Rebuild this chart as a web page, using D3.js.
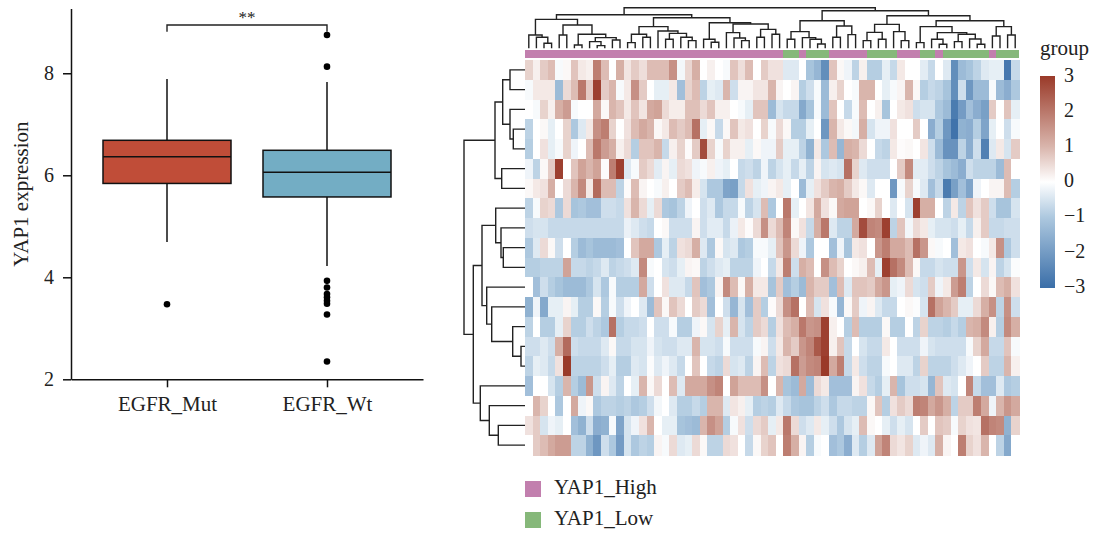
<!DOCTYPE html>
<html>
<head>
<meta charset="utf-8">
<script src="https://cdn.jsdelivr.net/npm/d3@7/dist/d3.min.js"></script>
<style>
html,body{margin:0;padding:0;background:#fff;}
svg{display:block;}
text{font-family:"Liberation Serif",serif;fill:#222;}
</style>
</head>
<body>
<svg id="chart" width="1100" height="535"></svg>
<script>
// ---- Box plot data ----
const boxGroups = ["EGFR_Mut", "EGFR_Wt"];
const boxQ1 = [5.84, 5.575];
const boxMedian = [6.365, 6.06];
const boxQ3 = [6.686, 6.49];
const boxWhiskerLow = [4.69, 4.22];
const boxWhiskerHigh = [7.89, 7.83];
const boxOutliers = [[3.47], [8.75, 8.13, 3.93, 3.80, 3.67, 3.61, 3.54, 3.48, 3.27, 2.35]];
const boxColors = ["#c04d38", "#73adc4"];
const yTicks = [2, 4, 6, 8];

// ---- Heatmap data: rows top to bottom, 65 samples left to right ----
const heatValues = [
[0.6,0.2,0.7,0.9,-0.1,0.1,0.8,0.3,0.2,1.9, 0.9,0,1.1,0.35,0.7,0.45,0.9,0.9,0.9,1.6, -0.15,0.55,1.1,0,0.2,0,-0.1,0.8,0.45,0.9, 0,0.7,0.4,0.4,-0.4,-0.4,0,-1.1,-1.4,-2.3, 0.8,0.1,-0.2,-0.8,0.2,-0.9,-0.9,-0.3,-0.7,0.3, 0,0,-0.35,-0.7,0,-0.4,-2.3,-1.3,-1.1,-0.8, -0.4,-0.3,-0.3,-2.8,-0.7],
[-0.1,0.3,0.3,0.3,-1.3,0.5,0.9,2.0,0.7,2.9, 0.7,1.0,-0.1,0.3,1.6,0.7,0,-0.3,-0.3,0.3, -1.2,0.6,0.9,-0.8,-0.3,-0.4,1.0,-0.6,0.15,0.15, 0.35,0.35,1.0,0.15,0,0.15,-0.9,-0.6,-0.1,-1.3, 0.2,0.6,0,-0.1,1.0,1.0,0,-0.3,-0.1,0.15, 1.0,0.1,-0.9,-0.7,-0.8,-1.1,-2.3,-0.6,-2.1,-1.3, -1.3,-0.1,-1.3,-1.6,-1.0],
[0,-0.1,0.6,0.2,1.1,1.4,-0.1,0,0,1.2, 0.1,1.0,0.8,0.3,0.8,0.35,1.2,1.3,0.5,0.25, 0.25,0.85,0.85,0.5,0.8,0.2,0.2,0,-0.1,-0.3, 0.8,0.8,-1.3,-0.5,-0.7,-0.7,-1.7,-1.1,-0.1,-1.3, 0.8,0,-0.7,-0.1,0.9,0,0.2,-1.1,0,0.3, 0.4,-0.6,-0.5,-0.5,-1.0,-1.3,-2.7,-2.0,-1.2,-1.6, -1.9,0.7,0,0.8,-0.3],
[-0.8,0,0.1,-0.3,0,0.6,-1.0,-0.4,0.3,1.6, 1.9,0.6,0,0.4,0.9,1.2,1.0,0.1,0.3,0.9, 0.7,0.9,2.1,-0.3,0.1,-0.7,0.1,0.8,0.3,0.4, 0,0.6,-0.1,0.5,0.1,-0.9,-0.9,-0.3,0,-2.1, 1.0,0.3,0.1,-0.15,1.1,-0.5,-0.2,-0.2,0.4,0, 0,0.7,0,-1.6,-0.9,-2.1,-2.9,-1.5,-1.6,-0.9, -1.8,-0.3,0,-0.6,-0.1],
[-0.9,0,0.4,-0.3,-0.1,0.6,-0.2,0,0.9,2.0, 1.4,1.1,0.2,0.5,-0.9,0.8,0.8,1.0,-0.7,0.2, 0.6,0.05,0.7,2.7,0.6,-0.1,0.6,0.2,0.2,-0.3, 0.1,-0.2,-0.2,0.7,-0.3,-0.3,-0.8,-1.5,0.3,-1.0, 0.9,-1.4,1.1,1.0,0.5,0,-0.7,-0.8,0.3,0.05, 0.1,0,0.35,-0.6,-1.3,-2.2,-2.2,-0.8,-1.6,-0.6, -2.6,-0.4,0.3,-0.5,0.7],
[-0.2,-0.8,0.1,0.7,2.9,0,0.8,1.3,1.0,1.3, 0.05,1.9,2.9,-0.4,-0.1,0.7,0.5,-0.35,0.15,-0.3, 0.5,0.4,-0.2,-0.1,0.2,-0.2,-0.3,0,-0.7,-0.6, -0.8,-0.2,-0.8,-0.5,-0.3,-0.7,-0.3,-0.8,0.15,-0.5, -0.4,-0.5,2.1,0.6,-0.4,-0.6,-0.6,-0.6,0,0.7, 1.7,-0.35,-0.35,-0.6,-0.8,-1.1,-1.3,-1.6,-0.6,-0.8, -0.8,-0.8,-1.3,0.9,0],
[0.1,0.3,0.4,1.1,0,0.5,1.0,1.7,0.3,2.2, 0.9,0.9,-0.8,0.05,0.9,0.15,0,-0.1,0.2,0, 0.7,0.9,0.25,-0.5,-1.0,-1.0,-1.8,-1.9,-0.7,0.4, -0.3,-0.2,0.15,0.3,-0.3,0,-1.3,-0.3,0.4,0.7, 1.0,1.1,0.7,0.3,0.1,-0.4,0,0,-2.1,-0.1, 0.6,-0.1,-0.4,-1.2,-0.7,-2.7,-1.9,-1.2,-1.8,-0.2, 0,0.15,0.15,0.9,-0.9],
[-0.8,-0.1,0.6,0.5,-1.0,0.5,-1.1,-1.0,-1.2,-1.2, -0.6,-0.6,-0.7,0.4,1.0,0.5,-0.3,0.5,-1.0,-1.1, -0.8,-0.2,0,-0.6,-0.4,-1.0,-0.7,-0.7,-0.1,-0.8, -0.5,0.9,-1.0,0,2.0,-0.3,0,0.35,1.2,0.4, 0.1,1.2,1.3,1.3,0,0.1,0.6,0,-0.4,0, -0.5,2.9,1.1,1.1,0,-0.8,0.3,-0.8,0.8,0.4, 0.7,-0.6,-1.1,-1.1,-0.5],
[-0.6,-0.5,-0.5,-0.7,-0.7,-0.7,-0.7,-0.7,-0.7,-0.7, -0.7,-0.7,-0.7,-0.25,-0.4,-0.6,-0.7,0,0.1,-0.6, -0.6,-0.6,0.15,-0.6,-0.35,-0.35,-0.7,-0.25,0.3,0.05, 0.5,1.6,0.5,0.9,1.8,0.1,0.4,-0.7,1.1,2.0, -0.4,-0.8,-0.8,1.2,2.7,1.8,1.7,2.9,-0.8,0.8, -0.15,0.5,0.3,-0.3,-0.5,-0.5,-0.6,-0.3,-0.7,0.2, 0.7,-0.7,-0.7,-0.6,-0.6],
[-1.0,-0.4,0.5,0.1,-0.6,0,-0.9,-1.3,-1.1,-1.3, -1.3,-1.3,-1.2,0,0.8,1.2,1.2,-1.0,-0.3,-0.8, 0.4,0.5,1.1,-0.4,-1.0,0.1,-0.5,-0.4,-1.0,-0.9, -0.1,-0.1,-0.3,0.8,1.5,0.5,-0.2,-1.0,0,0, -1.2,-0.2,-1.1,0.3,0.4,0,1.5,1.9,1.2,1.2, 0.9,2.1,1.5,0.1,-0.1,0,-1.2,0.3,0.4,0, -0.1,0.3,1.6,-1.0,-0.6],
[-0.9,-0.9,-0.8,-0.8,-0.8,1.3,-0.7,-0.7,-0.8,-0.7, -0.4,-0.8,-0.7,-0.6,-0.4,1.7,-0.1,0,-0.5,-0.6, -0.3,0.15,0.1,-0.8,-0.6,-0.4,-0.3,-0.8,-0.8,-0.8, -0.2,0,-0.7,0.3,1.9,-0.6,1.1,0.9,0,1.6, 0.9,0.6,0,0.1,0.2,0.9,-0.3,2.9,2.1,1.7, 0.9,0.1,-0.7,-0.7,-0.5,-0.6,-0.6,1.5,-0.6,0.3, -0.5,0.15,-0.8,-0.5,-0.05],
[0,-1.2,-0.6,-0.9,-1.1,-1.3,-1.3,-1.3,-1.0,-0.5, -1.0,-0.1,-0.9,-0.9,-0.9,1.2,-0.6,0,0.4,-0.4, -0.4,-0.7,0.8,-1.2,-1.0,0.15,1.7,0.9,0.1,1.1, 0.3,0.3,-1.1,0.7,-1.2,-0.9,-1.3,1.0,0.7,0.7, -1.2,0.9,-0.4,0.8,0.8,0.7,1.2,1.5,-0.3,-0.2, 0.5,-0.5,-0.6,0.7,-0.2,0.3,1.4,1.9,-0.8,0, 0.5,0.1,0.9,1.1,0.4],
[-1.5,-0.2,-1.7,-0.3,-0.3,0.15,-0.3,-0.9,-0.9,0.1, -0.9,-0.1,-0.6,-0.2,0,-0.4,-1.3,0.8,0.1,0.8, 0.5,0,0.7,0.5,-1.2,0,-0.6,-1.4,-0.5,-1.2, 0.7,-0.9,0.05,0.5,1.6,2.1,0,0.9,-0.5,0.4, -0.1,-1.4,0.1,0.7,-0.2,0.15,-0.4,-0.7,-0.7,0, 0.1,-0.05,-0.5,2.1,1.3,1.0,0.7,-0.3,-0.3,0.5, 1.1,1.6,-0.8,1.6,-0.6],
[-0.8,0,-0.9,-0.9,-0.3,0.6,-0.9,-0.9,-0.6,-0.8, -1.0,2.1,-0.9,-0.7,-0.7,-0.6,0,-0.6,-0.6,-0.1, -0.9,-0.9,-0.2,0.1,-0.5,0.6,-0.3,1.0,-0.5,-0.8, 0.7,0.5,-0.9,0.4,0.9,1.1,2.0,1.5,1.6,2.9, 0.2,0,-0.9,0.9,-0.9,-0.9,-0.9,0.1,-0.9,-0.9, 0,-0.8,0.6,-0.8,-0.8,-0.9,-0.7,-0.9,1.0,1.1, 1.7,0.2,-0.9,1.7,1.1],
[-0.6,-0.6,-0.4,-0.6,1.1,2.2,-0.6,-0.7,-0.7,-0.7, -0.4,0.1,-0.7,-0.7,-0.5,-0.5,-0.2,-0.5,-0.6,-0.6, -0.4,-0.4,1.0,-0.5,-0.5,-0.6,-0.1,-0.6,-0.6,-0.6, -0.1,0.15,-0.6,0.3,1.0,0.7,1.5,1.8,2.5,2.9, 0.2,0.8,-0.7,0,-0.5,-0.7,-0.7,0.3,0,-0.6, -0.6,-0.6,-0.2,-0.5,-0.6,-0.6,-0.6,-0.6,-0.1,0.6, 1.2,-0.7,-0.7,0.8,-0.1],
[-0.8,-0.3,-0.4,-0.7,0.4,3.0,-0.8,-0.8,-0.8,-0.8, -0.6,-0.3,-0.9,-0.9,-0.4,-0.5,-0.05,-0.4,-0.2,-0.4, -0.7,0,0.8,0,-0.7,-0.8,0.5,-0.5,-0.4,-0.8, 0.15,0.9,-0.8,0.4,0.5,2.1,1.4,1.7,1.8,3.0, 1.2,1.9,-0.7,0.3,-0.6,-0.8,-0.8,-0.1,0,-0.4, -0.4,-0.8,0.6,-0.8,-0.8,-0.8,-0.6,-0.4,-0.2,0, 0.7,-0.8,-0.8,1.0,0.2],
[-1.2,0,0,-0.5,-0.9,1.0,-0.9,-1.3,1.5,-0.6, 0.15,-0.4,-0.8,0,-0.3,1.0,0.1,0.5,0,0.9, -0.4,1.2,1.2,1.2,1.6,1.8,0,1.3,0.9,0.9, 0.9,1.6,0,1.0,-1.1,-1.3,1.2,-1.3,0.5,0.3, -1.2,-1.2,-1.2,0.15,0.4,-0.7,-0.9,-0.3,1.0,-1.1, -0.6,-0.6,-0.5,-1.4,0.8,-0.4,-0.5,0,1.8,-0.7, -1.2,-1.2,-0.4,-1.0,-0.9],
[0,1.0,0.6,0,-1.0,0,1.2,-0.2,0.1,-1.0, -0.8,-0.8,-0.9,-0.8,-1.0,-0.9,-0.6,-0.15,0,-0.4, -0.9,-0.9,-0.7,-0.9,1.0,1.0,-0.4,0.35,0.2,-0.3, -0.9,-0.8,-0.9,-0.4,-0.7,-1.0,-1.1,-1.1,-0.8,-0.6, -1.0,-0.7,-0.7,-0.8,-0.8,0.1,0.8,-0.9,0.4,0.7, 0.5,1.9,1.8,1.2,1.5,1.1,-0.8,0.7,0.7,1.9, 1.2,-0.2,1.0,1.5,1.2],
[0.4,0.7,-0.5,-0.2,-0.3,0,-1.2,-1.5,-0.6,-1.6, -1.5,-0.1,-1.8,-0.5,-0.2,0.4,1.0,0,-0.3,-0.3, -1.1,-1.2,-1.3,1.0,1.6,1.3,-0.9,-0.1,0.4,-0.6, 0.5,0.7,-0.3,0.3,2.0,0.5,-0.6,-0.4,0.3,-0.3, -0.6,-1.0,-0.5,-0.3,0.9,0.1,0,-0.3,-0.6,-0.3, -0.5,0,0.7,0,0.8,0.7,-0.1,0.6,0.4,0.35, 2.1,1.8,1.7,-1.5,0.6],
[0,0.7,0.9,1.2,1.4,1.4,-0.8,-0.8,-1.5,-2.1, -0.6,-1.0,-2.0,-0.5,-1.0,-0.8,-0.9,0.15,-0.1,0.5, -0.4,-0.3,0.5,0.1,-0.8,-0.8,0.5,0.4,0,-0.7, 0.1,0.6,0.8,0,1.9,1.1,0.15,-0.9,-0.1,0, -1.2,-1.0,-1.6,-0.4,-0.9,-0.4,1.3,1.8,0.5,0.35, 0.6,-0.4,-0.2,-0.4,1.1,0.15,0,1.9,0.6,0.4, 1.0,0,-0.8,-1.7,0]
];
const heatColorDomain = [-3, -1, 0, 1, 3];
const heatColorRange = ["#3a6ea8", "#adc8df", "#ffffff", "#d9b5ac", "#9a3a29"];
const legendTicks = [3, 2, 1, 0, -1, -2, -3];

// Annotation groups: [first column, last column, group]
const annotationSpans = [[0,33,"YAP1_High"],[34,35,"YAP1_Low"],[36,36,"YAP1_High"],[37,39,"YAP1_Low"],[40,44,"YAP1_High"],[45,48,"YAP1_Low"],[49,51,"YAP1_High"],[52,53,"YAP1_Low"],[54,54,"YAP1_High"],[55,60,"YAP1_Low"],[61,61,"YAP1_High"],[62,64,"YAP1_Low"]];
const annotationNames = ["YAP1_High", "YAP1_Low"];
const annotationColors = ["#c27fae", "#86b87a"];

// Dendrograms: [merge height, left, right]; a number is a leaf index
const colTree = [122,
  [101,
    [87,
      [40, 0, [33, 1, [15, 2, 3]]],
      [70, [40, 4, 5], [42, [10, 6, 7], [32, [20, 8, [8, 9, 10]], [25, 11, 12]]]]],
    [92,
      [65, [42, [17, 13, 14], [33, 15, 16]], [52, 17, [45, [27, 18, 19], [33, 20, [23, 21, 22]]]]],
      [77, [27, 23, [18, 24, 25]], [73, [47, 26, [31, 27, [23, 28, 29]]], [57, [33, 30, 31], [42, 32, 33]]]]]],
  [113,
    [83,
      [50, [27, 34, 35], [32, 36, [27, 37, [13, 38, 39]]]],
      [67, [33, 40, 41], [41, 42, 43]]],
    [98,
      [72, [48, [23, 44, 45], [27, 46, 47]], [50, 48, [23, 49, 50]]],
      [83,
        [65, [17, 51, 52], [47, [27, 53, [12, 54, 55]], [42, [20, 56, 57], [28, 58, [12, 59, 60]]]]],
        [65, [37, 61, 62], [40, 63, 64]]]]]];
const rowTree = [61,
  [30,
    [22.3, [15, 0, 1], [15, 2, [11.7, 3, 4]]],
    [23.3, 5, 6]],
  [51.7,
    [43,
      [29.3, 7, [24, 8, [21.7, 9, 10]]],
      [38.3, 11, [33.3, 12, [12.3, 13, [4, 14, 15]]]]],
    [44.7, 16, [35.7, 17, [26.7, 18, 19]]]]];

const svg = d3.select("#chart");
const ink = "#111111";
const labelSize = 21;
const digitSize = 20;

// ---- Box plot ----
const yBox = d3.scaleLinear().domain([2, 9.27]).range([379.3, 8.5]);
const xBox = d3.scalePoint().domain(boxGroups).range([71, 423]).padding(0.6);
const boxWidth = xBox.step() * 0.8;
const boxG = svg.append("g");

const yAxisG = boxG.append("g").attr("transform", "translate(71,0)")
  .call(d3.axisLeft(yBox).tickValues(yTicks).tickSizeInner(8).tickSizeOuter(0).tickPadding(9).tickFormat(d3.format("d")));
const xAxisG = boxG.append("g").attr("transform", "translate(0,379.3)")
  .call(d3.axisBottom(xBox).tickSizeInner(8).tickSizeOuter(0).tickPadding(9));
[yAxisG, xAxisG].forEach(a => {
  a.selectAll("path,line").attr("stroke", ink).attr("stroke-width", 1.5);
  a.selectAll("text").attr("font-family", "Liberation Serif").attr("fill", "#222");
});
yAxisG.selectAll("text").attr("font-size", digitSize);
xAxisG.selectAll("text").attr("font-size", labelSize);
boxG.append("text").attr("transform", "translate(28,194) rotate(-90)").attr("text-anchor", "middle")
  .attr("font-size", labelSize).text("YAP1 expression");

boxGroups.forEach((g, i) => {
  const cx = xBox(g);
  boxG.append("line").attr("x1", cx).attr("x2", cx).attr("y1", yBox(boxWhiskerHigh[i])).attr("y2", yBox(boxQ3[i]))
    .attr("stroke", ink).attr("stroke-width", 1.5);
  boxG.append("line").attr("x1", cx).attr("x2", cx).attr("y1", yBox(boxQ1[i])).attr("y2", yBox(boxWhiskerLow[i]))
    .attr("stroke", ink).attr("stroke-width", 1.5);
  boxG.append("rect").attr("x", cx - boxWidth / 2).attr("width", boxWidth)
    .attr("y", yBox(boxQ3[i])).attr("height", yBox(boxQ1[i]) - yBox(boxQ3[i]))
    .attr("fill", boxColors[i]).attr("stroke", ink).attr("stroke-width", 1.5);
  boxG.append("line").attr("x1", cx - boxWidth / 2).attr("x2", cx + boxWidth / 2)
    .attr("y1", yBox(boxMedian[i])).attr("y2", yBox(boxMedian[i]))
    .attr("stroke", ink).attr("stroke-width", 1.5);
  boxG.selectAll(null).data(boxOutliers[i]).enter().append("circle")
    .attr("cx", cx).attr("cy", d => yBox(d)).attr("r", 3.3).attr("fill", "#000");
});
// Significance bracket
const bracketTop = 8.947, bracketTip = 8.816;
const bx0 = xBox(boxGroups[0]), bx1 = xBox(boxGroups[1]);
boxG.append("path").attr("fill", "none").attr("stroke", "#222").attr("stroke-width", 1.4)
  .attr("d", d3.line()([[bx0, yBox(bracketTip)], [bx0, yBox(bracketTop)], [bx1, yBox(bracketTop)], [bx1, yBox(bracketTip)]]));
boxG.append("text").attr("x", (bx0 + bx1) / 2).attr("y", yBox(bracketTop) - 2).attr("text-anchor", "middle")
  .attr("font-size", 17).text("**");

// ---- Heatmap ----
const nRows = heatValues.length, nCols = heatValues[0].length;
const xHeat = d3.scaleBand().domain(d3.range(nCols)).range([525, 1019]);
const yHeat = d3.scaleBand().domain(d3.range(nRows)).range([60, 455]);
const colorHeat = d3.scaleLinear().domain(heatColorDomain).range(heatColorRange).clamp(true);

svg.append("g").attr("shape-rendering", "crispEdges")
  .selectAll("g").data(heatValues).enter().append("g")
  .selectAll("rect").data((row, r) => row.map((v, c) => ({v, r, c}))).enter().append("rect")
  .attr("x", d => xHeat(d.c)).attr("y", d => yHeat(d.r))
  .attr("width", xHeat.bandwidth() + 0.5).attr("height", yHeat.bandwidth() + 0.5)
  .attr("fill", d => colorHeat(d.v));

// Annotation strip
const annoColor = d3.scaleOrdinal().domain(annotationNames).range(annotationColors);
svg.append("g").attr("shape-rendering", "crispEdges")
  .selectAll("rect").data(annotationSpans).enter().append("rect")
  .attr("x", d => xHeat(d[0])).attr("width", d => xHeat(d[1]) + xHeat.bandwidth() - xHeat(d[0]))
  .attr("y", 50).attr("height", 7.7).attr("fill", d => annoColor(d[2]));

// Dendrograms
function layoutTree(node, leafPos, out) {
  if (typeof node === "number") return {pos: leafPos(node), h: 0};
  const a = layoutTree(node[1], leafPos, out);
  const b = layoutTree(node[2], leafPos, out);
  out.push({h: node[0], a, b});
  return {pos: (a.pos + b.pos) / 2, h: node[0]};
}
const treeStroke = {fill: "none", stroke: "#222222", "stroke-width": 1.4};
function drawTree(links, pathFor) {
  const sel = svg.append("g").selectAll("path").data(links).enter().append("path").attr("d", pathFor);
  Object.entries(treeStroke).forEach(([k, v]) => sel.attr(k, v));
}
const colLinks = [];
layoutTree(colTree, i => xHeat(i) + xHeat.bandwidth() / 2, colLinks);
const yCol = d3.scaleLinear().domain([0, 122]).range([48.3, 7.7]);
drawTree(colLinks, d => d3.line()([[d.a.pos, yCol(d.a.h)], [d.a.pos, yCol(d.h)], [d.b.pos, yCol(d.h)], [d.b.pos, yCol(d.b.h)]]));

const rowLinks = [];
layoutTree(rowTree, i => yHeat(i) + yHeat.bandwidth() / 2, rowLinks);
const xRow = d3.scaleLinear().domain([0, 61]).range([525, 464]);
drawTree(rowLinks, d => d3.line()([[xRow(d.a.h), d.a.pos], [xRow(d.h), d.a.pos], [xRow(d.h), d.b.pos], [xRow(d.b.h), d.b.pos]]));

// Colour legend
const defs = svg.append("defs");
const grad = defs.append("linearGradient").attr("id", "heatGrad").attr("x1", 0).attr("x2", 0).attr("y1", 1).attr("y2", 0);
heatColorDomain.forEach((v, i) => grad.append("stop").attr("offset", (v + 3) / 6).attr("stop-color", heatColorRange[i]));
svg.append("text").attr("x", 1040).attr("y", 55).attr("font-size", labelSize).text("group");
const yLegend = d3.scaleLinear().domain([-3, 3]).range([286, 75.5]);
svg.append("rect").attr("x", 1040).attr("y", 76).attr("width", 15).attr("height", 212).attr("fill", "url(#heatGrad)");
svg.append("g").selectAll("text").data(legendTicks).enter().append("text")
  .attr("x", 1064).attr("y", d => yLegend(d)).attr("dy", "0.33em").attr("font-size", digitSize)
  .text(d => d < 0 ? "\u2212" + Math.abs(d) : d);

// Group legend
const legendItems = svg.append("g").selectAll("g").data(annotationNames).enter().append("g")
  .attr("transform", (d, i) => `translate(525,${481 + i * 31})`);
legendItems.append("rect").attr("width", 16).attr("height", 16).attr("fill", d => annoColor(d));
legendItems.append("text").attr("x", 29).attr("y", 13).attr("font-size", labelSize).text(d => d);
</script>
</body>
</html>
